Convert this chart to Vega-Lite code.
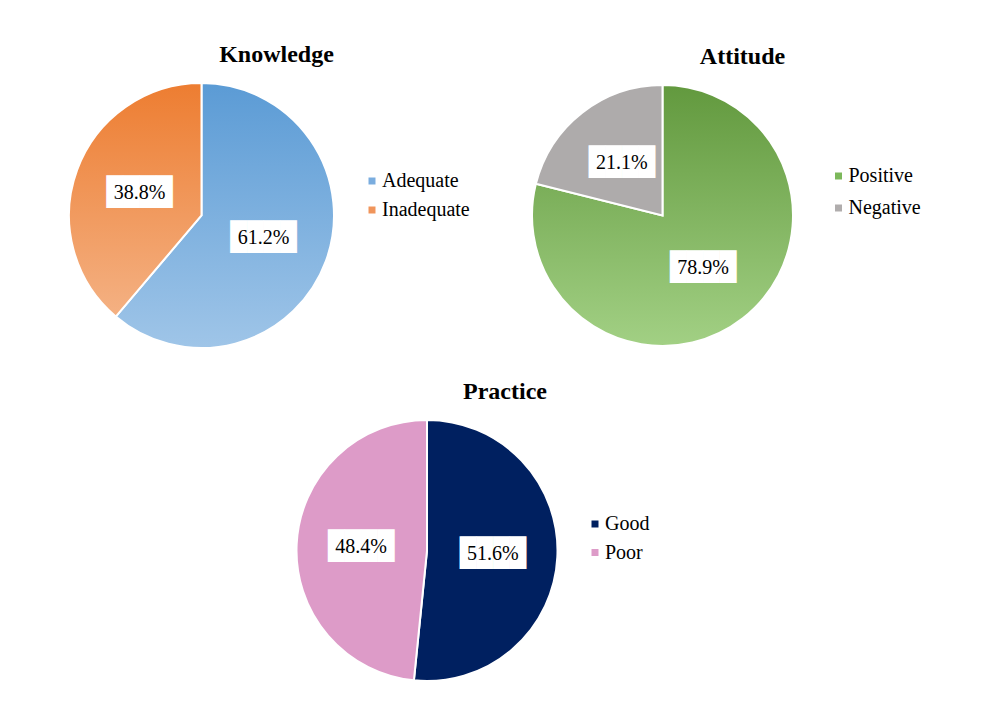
{
  "$schema": "https://vega.github.io/schema/vega-lite/v6.json",
  "background": "white",
  "padding": {"left": 65, "top": 43, "right": 5, "bottom": 5},
  "bounds": "flush",
  "spacing": 337,
  "config": {
    "view": {"stroke": null},
    "title": {"font": "Liberation Serif", "fontSize": 24, "fontWeight": "bold", "color": "black", "anchor": "middle", "baseline": "alphabetic", "offset": 12},
    "legend": {"labelFont": "Liberation Serif", "labelFontSize": 20, "labelColor": "black", "symbolType": "square", "symbolSize": 49, "symbolStrokeWidth": 0, "labelOffset": 0}
  },
  "resolve": {"scale": {"color": "independent", "theta": "independent"}, "legend": {"color": "independent"}},
  "vconcat": [
    {
      "hconcat": [
        {
          "title": {"text": "Knowledge", "dx": 75},
          "width": 265,
          "height": 265,
          "data": {"values": [
            {"category": "Adequate", "share": 0.612},
            {"category": "Inadequate", "share": 0.388}
          ]},
          "encoding": {
            "theta": {"field": "share", "type": "quantitative", "stack": true},
            "order": {"field": "share", "sort": "descending"},
            "detail": {"field": "category"}
          },
          "layer": [
            {
              "mark": {"type": "arc"},
              "encoding": {
                "color": {"field": "category", "type": "nominal",
                  "scale": {"domain": ["Adequate", "Inadequate"], "range": ["#7aaddf", "#f0955b"]},
                  "legend": {"title": null, "orient": "none", "legendX": 293, "legendY": 88, "rowPadding": 9}}
              }
            },
            {
              "mark": {"type": "arc", "stroke": "white", "strokeWidth": 2},
              "encoding": {
                "fill": {
                  "condition": {"test": "datum.category === 'Adequate'",
                    "value": {"gradient": "linear", "x1": 0, "y1": 0, "x2": 0, "y2": 1, "stops": [{"offset": 0, "color": "#5b9bd5"}, {"offset": 1, "color": "#9fc5e8"}]}},
                  "value": {"gradient": "linear", "x1": 0, "y1": 0, "x2": 0, "y2": 1, "stops": [{"offset": 0, "color": "#ed7d31"}, {"offset": 1, "color": "#f4b183"}]}
                }
              }
            },
            {
              "mark": {"type": "text", "radius": 66, "font": "DejaVu Sans Mono", "fontSize": 27.5, "fill": "white", "align": "center", "baseline": "middle"},
              "encoding": {"text": {"value": "████"}}
            },
            {
              "mark": {"type": "text", "radius": 66, "font": "Liberation Serif", "fontSize": 20, "fill": "black", "align": "center", "baseline": "middle"},
              "encoding": {"text": {"field": "share", "type": "quantitative", "format": ".1%"}}
            }
          ]
        },
        {
          "title": {"text": "Attitude", "dx": 80},
          "width": 261,
          "height": 265,
          "data": {"values": [
            {"category": "Positive", "share": 0.789},
            {"category": "Negative", "share": 0.211}
          ]},
          "encoding": {
            "theta": {"field": "share", "type": "quantitative", "stack": true},
            "order": {"field": "share", "sort": "descending"},
            "detail": {"field": "category"}
          },
          "layer": [
            {
              "mark": {"type": "arc"},
              "encoding": {
                "color": {"field": "category", "type": "nominal",
                  "scale": {"domain": ["Positive", "Negative"], "range": ["#7cb85b", "#b0adad"]},
                  "legend": {"title": null, "orient": "none", "legendX": 296.5, "legendY": 83, "rowPadding": 12}}
              }
            },
            {
              "mark": {"type": "arc", "stroke": "white", "strokeWidth": 2},
              "encoding": {
                "fill": {
                  "condition": {"test": "datum.category === 'Positive'",
                    "value": {"gradient": "linear", "x1": 0, "y1": 0, "x2": 0, "y2": 1, "stops": [{"offset": 0, "color": "#62993e"}, {"offset": 1, "color": "#a2d084"}]}},
                  "value": "#aeabab"
                }
              }
            },
            {
              "mark": {"type": "text", "font": "DejaVu Sans Mono", "fontSize": 27.5, "fill": "white", "align": "center", "baseline": "middle"},
              "encoding": {
                "text": {"value": "████"},
                "radius": {"condition": {"test": "datum.category === 'Negative'", "value": 76}, "value": 66}
              }
            },
            {
              "mark": {"type": "text", "font": "Liberation Serif", "fontSize": 20, "fill": "black", "align": "center", "baseline": "middle"},
              "encoding": {
                "text": {"field": "share", "type": "quantitative", "format": ".1%"},
                "radius": {"condition": {"test": "datum.category === 'Negative'", "value": 76}, "value": 66}
              }
            }
          ]
        }
      ],
      "spacing": 198,
      "bounds": "flush",
      "resolve": {"scale": {"color": "independent", "theta": "independent"}, "legend": {"color": "independent"}}
    },
    {
      "title": {"text": "Practice", "dx": 78},
      "width": 716,
      "height": 261,
      "data": {"values": [
        {"category": "Good", "share": 0.516},
        {"category": "Poor", "share": 0.484}
      ]},
      "encoding": {
        "theta": {"field": "share", "type": "quantitative", "stack": true},
        "order": {"field": "share", "sort": "descending"},
        "detail": {"field": "category"}
      },
      "layer": [
        {
          "mark": {"type": "arc", "stroke": "white", "strokeWidth": 2},
          "encoding": {
            "color": {"field": "category", "type": "nominal",
              "scale": {"domain": ["Good", "Poor"], "range": ["#002060", "#dd9bc8"]},
              "legend": {"title": null, "orient": "none", "legendX": 516, "legendY": 94, "rowPadding": 8.5}}
          }
        },
        {
          "mark": {"type": "text", "radius": 66, "font": "DejaVu Sans Mono", "fontSize": 27.5, "fill": "white", "align": "center", "baseline": "middle"},
          "encoding": {"text": {"value": "████"}}
        },
        {
          "mark": {"type": "text", "radius": 66, "font": "Liberation Serif", "fontSize": 20, "fill": "black", "align": "center", "baseline": "middle"},
          "encoding": {"text": {"field": "share", "type": "quantitative", "format": ".1%"}}
        }
      ]
    }
  ]
}
